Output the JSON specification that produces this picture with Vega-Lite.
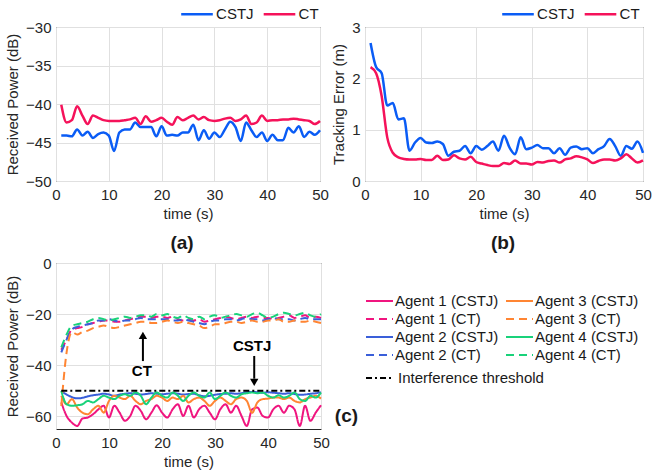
{
 "$schema": "https://vega.github.io/schema/vega-lite/v6.json",
 "padding": {"left": 5, "top": 6, "right": 0, "bottom": 0},
 "background": "white",
 "config": {
  "font": "Liberation Sans",
  "view": {"stroke": "#262626", "strokeWidth": 1},
  "axis": {"labelFontSize": 15, "labelColor": "#262626", "titleFontSize": 15, "titleFontWeight": "normal", "titleColor": "#262626", "gridColor": "#e0e0e0", "gridWidth": 1, "domain": false, "ticks": false, "labelPadding": 6, "titlePadding": 4, "labelFlush": false, "labelOverlap": false},
  "axisY": {"labelPadding": 5, "titlePadding": 5},
  "legend": {"labelFontSize": 15, "labelColor": "#1a1a1a", "padding": 0, "titlePadding": 0},
  "title": {"fontSize": 19, "fontWeight": "bold", "color": "#1a1a1a"}
 },
 "datasets": {
  "a": [
   {"t":1,"CSTJ":-44.1,"CT":-40.1},{"t":2,"CSTJ":-44.1,"CT":-42.4},{"t":3,"CSTJ":-44.2,"CT":-42.1},{"t":4,"CSTJ":-43.3,"CT":-40.3},{"t":5,"CSTJ":-44.1,"CT":-41.5},
   {"t":6,"CSTJ":-43.6,"CT":-42.6},{"t":7,"CSTJ":-44.4,"CT":-41.5},{"t":8,"CSTJ":-43.9,"CT":-41.8},{"t":9,"CSTJ":-43.7,"CT":-42.1},{"t":10,"CSTJ":-44.1,"CT":-42.2},
   {"t":11,"CSTJ":-46.1,"CT":-42.2},{"t":12,"CSTJ":-43.7,"CT":-42.2},{"t":13,"CSTJ":-43.3,"CT":-42.1},{"t":14,"CSTJ":-43.3,"CT":-42.0},{"t":15,"CSTJ":-42.4,"CT":-41.8},
   {"t":16,"CSTJ":-43.0,"CT":-42.6},{"t":17,"CSTJ":-43.0,"CT":-41.6},{"t":18,"CSTJ":-43.0,"CT":-42.3},{"t":19,"CSTJ":-44.2,"CT":-42.1},{"t":20,"CSTJ":-42.9,"CT":-41.8},
   {"t":21,"CSTJ":-44.1,"CT":-42.3},{"t":22,"CSTJ":-44.0,"CT":-42.7},{"t":23,"CSTJ":-44.1,"CT":-41.7},{"t":24,"CSTJ":-43.7,"CT":-42.1},{"t":25,"CSTJ":-43.7,"CT":-41.8},
   {"t":26,"CSTJ":-42.7,"CT":-41.5},{"t":27,"CSTJ":-44.7,"CT":-42.0},{"t":28,"CSTJ":-43.4,"CT":-41.7},{"t":29,"CSTJ":-44.5,"CT":-42.1},{"t":30,"CSTJ":-43.7,"CT":-42.2},
   {"t":31,"CSTJ":-44.3,"CT":-42.1},{"t":32,"CSTJ":-43.3,"CT":-41.9},{"t":33,"CSTJ":-42.3,"CT":-41.8},{"t":34,"CSTJ":-43.0,"CT":-42.2},{"t":35,"CSTJ":-44.8,"CT":-42.0},
   {"t":36,"CSTJ":-42.4,"CT":-41.5},{"t":37,"CSTJ":-43.4,"CT":-42.6},{"t":38,"CSTJ":-44.3,"CT":-42.4},{"t":39,"CSTJ":-43.7,"CT":-41.5},{"t":40,"CSTJ":-44.8,"CT":-42.2},
   {"t":41,"CSTJ":-44.0,"CT":-42.1},{"t":42,"CSTJ":-44.7,"CT":-42.1},{"t":43,"CSTJ":-44.7,"CT":-42.0},{"t":44,"CSTJ":-43.1,"CT":-42.0},{"t":45,"CSTJ":-43.7,"CT":-41.9},
   {"t":46,"CSTJ":-42.9,"CT":-42.0},{"t":47,"CSTJ":-44.3,"CT":-42.1},{"t":48,"CSTJ":-43.6,"CT":-42.2},{"t":49,"CSTJ":-44.0,"CT":-42.6},{"t":50,"CSTJ":-43.4,"CT":-42.2}
  ],
  "b": [
   {"t":1,"CSTJ":2.69,"CT":2.22},{"t":2,"CSTJ":2.22,"CT":2.1},{"t":3,"CSTJ":2.1,"CT":1.65},{"t":4,"CSTJ":1.47,"CT":0.85},{"t":5,"CSTJ":1.52,"CT":0.55},
   {"t":6,"CSTJ":1.2,"CT":0.46},{"t":7,"CSTJ":1.22,"CT":0.43},{"t":8,"CSTJ":0.59,"CT":0.42},{"t":9,"CSTJ":0.75,"CT":0.42},{"t":10,"CSTJ":0.84,"CT":0.43},
   {"t":11,"CSTJ":0.75,"CT":0.41},{"t":12,"CSTJ":0.74,"CT":0.41},{"t":13,"CSTJ":0.77,"CT":0.49},{"t":14,"CSTJ":0.72,"CT":0.41},{"t":15,"CSTJ":0.49,"CT":0.42},
   {"t":16,"CSTJ":0.57,"CT":0.50},{"t":17,"CSTJ":0.59,"CT":0.44},{"t":18,"CSTJ":0.68,"CT":0.42},{"t":19,"CSTJ":0.54,"CT":0.47},{"t":20,"CSTJ":0.68,"CT":0.37},
   {"t":21,"CSTJ":0.61,"CT":0.34},{"t":22,"CSTJ":0.68,"CT":0.31},{"t":23,"CSTJ":0.77,"CT":0.29},{"t":24,"CSTJ":0.59,"CT":0.29},{"t":25,"CSTJ":0.88,"CT":0.35},
   {"t":26,"CSTJ":0.65,"CT":0.33},{"t":27,"CSTJ":0.52,"CT":0.40},{"t":28,"CSTJ":0.85,"CT":0.34},{"t":29,"CSTJ":0.62,"CT":0.34},{"t":30,"CSTJ":0.65,"CT":0.32},
   {"t":31,"CSTJ":0.70,"CT":0.37},{"t":32,"CSTJ":0.64,"CT":0.36},{"t":33,"CSTJ":0.64,"CT":0.39},{"t":34,"CSTJ":0.54,"CT":0.40},{"t":35,"CSTJ":0.64,"CT":0.36},
   {"t":36,"CSTJ":0.51,"CT":0.42},{"t":37,"CSTJ":0.65,"CT":0.44},{"t":38,"CSTJ":0.67,"CT":0.48},{"t":39,"CSTJ":0.62,"CT":0.46},{"t":40,"CSTJ":0.64,"CT":0.42},
   {"t":41,"CSTJ":0.54,"CT":0.35},{"t":42,"CSTJ":0.62,"CT":0.39},{"t":43,"CSTJ":0.68,"CT":0.42},{"t":44,"CSTJ":0.82,"CT":0.42},{"t":45,"CSTJ":0.68,"CT":0.40},
   {"t":46,"CSTJ":0.49,"CT":0.44},{"t":47,"CSTJ":0.68,"CT":0.52},{"t":48,"CSTJ":0.63,"CT":0.44},{"t":49,"CSTJ":0.77,"CT":0.36},{"t":50,"CSTJ":0.55,"CT":0.40}
  ],
  "c": [
   {"t":1,"a1s":-54.6,"a1c":-34,"a2s":-50.2,"a2c":-35,"a3s":-52.0,"a3c":-56,"a4s":-50.1,"a4c":-33},
   {"t":2,"a1s":-59.9,"a1c":-30,"a2s":-51.5,"a2c":-30,"a3s":-55.3,"a3c":-35,"a4s":-55.3,"a4c":-28},
   {"t":3,"a1s":-62.5,"a1c":-26,"a2s":-52.5,"a2c":-26,"a3s":-53.3,"a3c":-27,"a4s":-55.9,"a4c":-24.5},
   {"t":4,"a1s":-63.8,"a1c":-25.5,"a2s":-53,"a2c":-25,"a3s":-56.6,"a3c":-28,"a4s":-55.7,"a4c":-24},
   {"t":5,"a1s":-60.9,"a1c":-25,"a2s":-52.8,"a2c":-24.5,"a3s":-58.6,"a3c":-27,"a4s":-55.3,"a4c":-23.5},
   {"t":6,"a1s":-60.5,"a1c":-24,"a2s":-52.2,"a2c":-24,"a3s":-59.2,"a3c":-26.5,"a4s":-54.0,"a4c":-23},
   {"t":7,"a1s":-59.2,"a1c":-23.5,"a2s":-51.8,"a2c":-23.5,"a3s":-57.3,"a3c":-25.5,"a4s":-54.6,"a4c":-22},
   {"t":8,"a1s":-57.3,"a1c":-23,"a2s":-51.5,"a2c":-22.5,"a3s":-55.9,"a3c":-25,"a4s":-53.3,"a4c":-21.5},
   {"t":9,"a1s":-55.9,"a1c":-22.5,"a2s":-51.2,"a2c":-22.5,"a3s":-58.6,"a3c":-24.5,"a4s":-52.0,"a4c":-22},
   {"t":10,"a1s":-60.5,"a1c":-22.5,"a2s":-51.5,"a2c":-22,"a3s":-54.0,"a3c":-25,"a4s":-52.7,"a4c":-22.5},
   {"t":11,"a1s":-55.9,"a1c":-23,"a2s":-52,"a2c":-22.5,"a3s":-52.0,"a3c":-25.5,"a4s":-53.3,"a4c":-22},
   {"t":12,"a1s":-58.6,"a1c":-23,"a2s":-51.5,"a2c":-23,"a3s":-52.7,"a3c":-25,"a4s":-52.0,"a4c":-21.5},
   {"t":13,"a1s":-61.8,"a1c":-22.5,"a2s":-51.2,"a2c":-22.5,"a3s":-53.3,"a3c":-24.5,"a4s":-51.4,"a4c":-21},
   {"t":14,"a1s":-59.9,"a1c":-22,"a2s":-51,"a2c":-22.5,"a3s":-52.0,"a3c":-24,"a4s":-52.0,"a4c":-21.5},
   {"t":15,"a1s":-55.9,"a1c":-21.5,"a2s":-51.2,"a2c":-22,"a3s":-54.0,"a3c":-23.5,"a4s":-50.7,"a4c":-21},
   {"t":16,"a1s":-57.9,"a1c":-21,"a2s":-51.5,"a2c":-21.5,"a3s":-55.3,"a3c":-23,"a4s":-52.0,"a4c":-20.5},
   {"t":17,"a1s":-61.2,"a1c":-21,"a2s":-51.3,"a2c":-22,"a3s":-54.0,"a3c":-23,"a4s":-55.3,"a4c":-20.5},
   {"t":18,"a1s":-58.6,"a1c":-21.5,"a2s":-51,"a2c":-22,"a3s":-53.3,"a3c":-23.5,"a4s":-52.7,"a4c":-21},
   {"t":19,"a1s":-55.7,"a1c":-21,"a2s":-51.2,"a2c":-22,"a3s":-52.0,"a3c":-23.5,"a4s":-50.7,"a4c":-20},
   {"t":20,"a1s":-58.6,"a1c":-21,"a2s":-51.4,"a2c":-22,"a3s":-52.7,"a3c":-23,"a4s":-52.0,"a4c":-20.5},
   {"t":21,"a1s":-60.5,"a1c":-21.5,"a2s":-51.2,"a2c":-22,"a3s":-54.0,"a3c":-22.5,"a4s":-52.7,"a4c":-20},
   {"t":22,"a1s":-57.3,"a1c":-21,"a2s":-51,"a2c":-22.5,"a3s":-52.7,"a3c":-23,"a4s":-50.7,"a4c":-21},
   {"t":23,"a1s":-55.3,"a1c":-22,"a2s":-51.2,"a2c":-22.5,"a3s":-53.3,"a3c":-23.5,"a4s":-52.0,"a4c":-21.5},
   {"t":24,"a1s":-59.9,"a1c":-22.5,"a2s":-51.5,"a2c":-22,"a3s":-52.0,"a3c":-23,"a4s":-54.0,"a4c":-20.5},
   {"t":25,"a1s":-55.9,"a1c":-22,"a2s":-51.3,"a2c":-22.5,"a3s":-54.6,"a3c":-23.5,"a4s":-52.0,"a4c":-21.5},
   {"t":26,"a1s":-60.5,"a1c":-22.5,"a2s":-51.2,"a2c":-23,"a3s":-53.3,"a3c":-24,"a4s":-50.7,"a4c":-22},
   {"t":27,"a1s":-57.3,"a1c":-22,"a2s":-51.8,"a2c":-23.5,"a3s":-52.7,"a3c":-24.5,"a4s":-52.0,"a4c":-21},
   {"t":28,"a1s":-55.9,"a1c":-23,"a2s":-52.2,"a2c":-24,"a3s":-54.0,"a3c":-25.5,"a4s":-52.7,"a4c":-22},
   {"t":29,"a1s":-58.6,"a1c":-22.5,"a2s":-52,"a2c":-23,"a3s":-55.9,"a3c":-25,"a4s":-50.7,"a4c":-21},
   {"t":30,"a1s":-61.2,"a1c":-22,"a2s":-51.6,"a2c":-22.5,"a3s":-54.0,"a3c":-24,"a4s":-53.3,"a4c":-20.5},
   {"t":31,"a1s":-57.3,"a1c":-21.5,"a2s":-51.3,"a2c":-22.5,"a3s":-52.7,"a3c":-24,"a4s":-52.0,"a4c":-21.5},
   {"t":32,"a1s":-55.3,"a1c":-21,"a2s":-51.2,"a2c":-22,"a3s":-54.0,"a3c":-23.5,"a4s":-50.7,"a4c":-21},
   {"t":33,"a1s":-58.6,"a1c":-21.5,"a2s":-51,"a2c":-22,"a3s":-55.3,"a3c":-23,"a4s":-52.0,"a4c":-20.5},
   {"t":34,"a1s":-55.9,"a1c":-22,"a2s":-51.2,"a2c":-22.5,"a3s":-53.3,"a3c":-23,"a4s":-52.7,"a4c":-20},
   {"t":35,"a1s":-59.9,"a1c":-21.5,"a2s":-51,"a2c":-22,"a3s":-52.7,"a3c":-23.5,"a4s":-51.4,"a4c":-20.5},
   {"t":36,"a1s":-63.8,"a1c":-21,"a2s":-50.6,"a2c":-21.5,"a3s":-54.0,"a3c":-23,"a4s":-51.0,"a4c":-21},
   {"t":37,"a1s":-57.3,"a1c":-21.5,"a2s":-50.5,"a2c":-22,"a3s":-58.6,"a3c":-22.5,"a4s":-50.7,"a4c":-20},
   {"t":38,"a1s":-56.6,"a1c":-21,"a2s":-50.6,"a2c":-22,"a3s":-54.6,"a3c":-23,"a4s":-51.0,"a4c":-19.5},
   {"t":39,"a1s":-59.9,"a1c":-21.5,"a2s":-50.8,"a2c":-22.5,"a3s":-53.3,"a3c":-23,"a4s":-50.7,"a4c":-20.5},
   {"t":40,"a1s":-60.5,"a1c":-21.5,"a2s":-50.6,"a2c":-22,"a3s":-53.1,"a3c":-22.5,"a4s":-52.0,"a4c":-21.5},
   {"t":41,"a1s":-57.3,"a1c":-22,"a2s":-50.8,"a2c":-21.5,"a3s":-52.7,"a3c":-22.5,"a4s":-52.7,"a4c":-21},
   {"t":42,"a1s":-55.9,"a1c":-21.5,"a2s":-51,"a2c":-22,"a3s":-52.7,"a3c":-22,"a4s":-51.8,"a4c":-20},
   {"t":43,"a1s":-58.6,"a1c":-21,"a2s":-51.2,"a2c":-22,"a3s":-53.3,"a3c":-23,"a4s":-52.7,"a4c":-19.5},
   {"t":44,"a1s":-55.9,"a1c":-20.5,"a2s":-51,"a2c":-22,"a3s":-52.7,"a3c":-23,"a4s":-52.0,"a4c":-20},
   {"t":45,"a1s":-57.3,"a1c":-21.5,"a2s":-51.3,"a2c":-22.5,"a3s":-54.0,"a3c":-22.5,"a4s":-50.7,"a4c":-20.5},
   {"t":46,"a1s":-63.8,"a1c":-21,"a2s":-51.6,"a2c":-22,"a3s":-54.6,"a3c":-23,"a4s":-53.3,"a4c":-20},
   {"t":47,"a1s":-55.9,"a1c":-20.5,"a2s":-51.5,"a2c":-21.5,"a3s":-53.3,"a3c":-23,"a4s":-54.0,"a4c":-19.5},
   {"t":48,"a1s":-61.8,"a1c":-21.5,"a2s":-51.2,"a2c":-22,"a3s":-52.7,"a3c":-22.5,"a4s":-52.0,"a4c":-20.5},
   {"t":49,"a1s":-58.6,"a1c":-21,"a2s":-51,"a2c":-22,"a3s":-52.0,"a3c":-23,"a4s":-52.7,"a4c":-21},
   {"t":50,"a1s":-55.7,"a1c":-21.5,"a2s":-50.6,"a2c":-22,"a3s":-53.1,"a3c":-23.5,"a4s":-50.7,"a4c":-20}
  ],
  "thr": [{"t":1,"v":-50,"k":"Interference threshold"},{"t":50,"v":-50,"k":"Interference threshold"}],
  "arrows": [{"t":16.4,"v1":-29.5,"v2":-38.4,"h":-28.3,"d":"up"},{"t":37.4,"v1":-36.4,"v2":-45.3,"h":-46.7,"d":"down"}],
  "notes": [{"t":16.2,"v":-42.3,"txt":"CT"},{"t":37.0,"v":-32.5,"txt":"CSTJ"}],
  "plabel": [{"t":54.8,"v":-60,"txt":"(c)"}]
 },
 "columns": 2,
 "spacing": {"row": 82, "column": 44},
 "bounds": "flush",
 "resolve": {"scale": {"color": "independent", "strokeDash": "independent", "shape": "independent"}},
 "concat": [
  {
   "width": 264, "height": 154,
   "data": {"name": "a"},
   "transform": [{"fold": ["CSTJ", "CT"], "as": ["m", "v"]}],
   "title": {"text": "(a)", "orient": "bottom", "anchor": "middle", "offset": 13, "dx": -6},
   "mark": {"type": "line", "strokeWidth": 2.5, "interpolate": "monotone"},
   "encoding": {
    "x": {"field": "t", "type": "quantitative", "scale": {"domain": [0, 50]}, "axis": {"values": [0,10,20,30,40,50], "title": "time (s)"}},
    "y": {"field": "v", "type": "quantitative", "scale": {"domain": [-50, -30]}, "axis": {"values": [-50,-45,-40,-35,-30], "title": "Received Power (dB)"}},
    "color": {"field": "m", "type": "nominal", "scale": {"domain": ["CSTJ", "CT"], "range": ["#0a5cf5", "#f5125a"]},
     "legend": {"title": null, "orient": "none", "direction": "horizontal", "legendX": 133.5, "legendY": -20.5, "symbolType": "M-3,0H3", "symbolSize": 111, "symbolStrokeWidth": 2.5, "labelOffset": 11.6, "columnPadding": 3.5}}
   }
  },
  {
   "width": 278, "height": 154,
   "data": {"name": "b"},
   "transform": [{"fold": ["CSTJ", "CT"], "as": ["m", "v"]}],
   "title": {"text": "(b)", "orient": "bottom", "anchor": "middle", "offset": 13, "dx": -1},
   "mark": {"type": "line", "strokeWidth": 2.5, "interpolate": "monotone"},
   "encoding": {
    "x": {"field": "t", "type": "quantitative", "scale": {"domain": [0, 50]}, "axis": {"values": [0,10,20,30,40,50], "title": "time (s)"}},
    "y": {"field": "v", "type": "quantitative", "scale": {"domain": [0, 3]}, "axis": {"values": [0,1,2,3], "title": "Tracking Error (m)"}},
    "color": {"field": "m", "type": "nominal", "scale": {"domain": ["CSTJ", "CT"], "range": ["#0a5cf5", "#f5125a"]},
     "legend": {"title": null, "orient": "none", "direction": "horizontal", "legendX": 145.5, "legendY": -20.5, "symbolType": "M-3,0H3", "symbolSize": 111, "symbolStrokeWidth": 2.5, "labelOffset": 11.6, "columnPadding": 3.5}}
   }
  },
  {
   "width": 265, "height": 166,
   "resolve": {"scale": {"color": "independent", "strokeDash": "independent"}},
   "layer": [
    {
     "data": {"name": "c"},
     "transform": [{"fold": ["a1s","a1c","a2s","a2c","a3s","a3c","a4s","a4c"], "as": ["s", "v"]}],
     "mark": {"type": "line", "strokeWidth": 2, "interpolate": "monotone"},
     "encoding": {
      "x": {"field": "t", "type": "quantitative", "scale": {"domain": [0, 50]}, "axis": {"values": [0,10,20,30,40,50], "title": "time (s)"}},
      "y": {"field": "v", "type": "quantitative", "scale": {"domain": [-65, 0]}, "axis": {"values": [-60,-40,-20,0], "title": "Received Power (dB)"}},
      "color": {"field": "s", "type": "nominal",
       "scale": {"domain": ["a1s","a1c","a2s","a2c","a3s","a3c","a4s","a4c"], "range": ["#f0157f","#f0157f","#3a5fd9","#3a5fd9","#ff8533","#ff8533","#19d27a","#19d27a"]},
       "legend": {"title": null, "orient": "none", "columns": 2, "legendX": 313.5, "legendY": 28, "symbolType": "M-1.5,0H1.5", "symbolSize": 324, "symbolStrokeWidth": 2, "labelOffset": 5.5, "columnPadding": 3, "rowPadding": 0,
        "labelExpr": "{'a1s':'Agent 1 (CSTJ)','a1c':'Agent 1 (CT)','a2s':'Agent 2 (CSTJ)','a2c':'Agent 2 (CT)','a3s':'Agent 3 (CSTJ)','a3c':'Agent 3 (CT)','a4s':'Agent 4 (CSTJ)','a4c':'Agent 4 (CT)'}[datum.label]"}},
      "strokeDash": {"field": "s", "type": "nominal",
       "scale": {"domain": ["a1s","a1c","a2s","a2c","a3s","a3c","a4s","a4c"], "range": [[1,0],[8,5],[1,0],[8,5],[1,0],[8,5],[1,0],[8,5]]},
       "legend": {"title": null, "orient": "none", "columns": 2, "legendX": 313.5, "legendY": 28, "symbolType": "M-1.5,0H1.5", "symbolSize": 324, "symbolStrokeWidth": 2, "labelOffset": 5.5, "columnPadding": 3, "rowPadding": 0,
        "labelExpr": "{'a1s':'Agent 1 (CSTJ)','a1c':'Agent 1 (CT)','a2s':'Agent 2 (CSTJ)','a2c':'Agent 2 (CT)','a3s':'Agent 3 (CSTJ)','a3c':'Agent 3 (CT)','a4s':'Agent 4 (CSTJ)','a4c':'Agent 4 (CT)'}[datum.label]"}}
     }
    },
    {
     "data": {"name": "thr"},
     "mark": {"type": "line", "strokeWidth": 2},
     "encoding": {
      "x": {"field": "t", "type": "quantitative", "scale": {"domain": [0, 50]}},
      "y": {"field": "v", "type": "quantitative", "scale": {"domain": [-65, 0]}},
      "color": {"field": "k", "type": "nominal", "scale": {"range": ["#000000"]},
       "legend": {"title": null, "orient": "none", "legendX": 313.5, "legendY": 105, "symbolType": "M-1.5,0H1.5", "symbolSize": 324, "symbolStrokeWidth": 2, "labelOffset": 8.5}},
      "strokeDash": {"field": "k", "type": "nominal", "scale": {"range": [[6,3,2,3]]},
       "legend": {"title": null, "orient": "none", "legendX": 313.5, "legendY": 105, "symbolType": "M-1.5,0H1.5", "symbolSize": 324, "symbolStrokeWidth": 2, "labelOffset": 8.5}}
     }
    },
    {
     "data": {"name": "arrows"},
     "mark": {"type": "rule", "strokeWidth": 2, "color": "#000000"},
     "encoding": {
      "x": {"field": "t", "type": "quantitative", "scale": {"domain": [0, 50]}},
      "y": {"field": "v1", "type": "quantitative", "scale": {"domain": [-65, 0]}},
      "y2": {"field": "v2"}
     }
    },
    {
     "data": {"name": "arrows"},
     "mark": {"type": "point", "filled": true, "color": "#000000", "size": 70, "opacity": 1},
     "encoding": {
      "x": {"field": "t", "type": "quantitative", "scale": {"domain": [0, 50]}},
      "y": {"field": "h", "type": "quantitative", "scale": {"domain": [-65, 0]}},
      "shape": {"field": "d", "type": "nominal", "scale": {"domain": ["up", "down"], "range": ["triangle-up", "triangle-down"]}, "legend": null}
     }
    },
    {
     "data": {"name": "notes"},
     "mark": {"type": "text", "fontWeight": "bold", "fontSize": 15, "color": "#000000", "align": "center", "baseline": "middle"},
     "encoding": {
      "x": {"field": "t", "type": "quantitative", "scale": {"domain": [0, 50]}},
      "y": {"field": "v", "type": "quantitative", "scale": {"domain": [-65, 0]}},
      "text": {"field": "txt"}
     }
    },
    {
     "data": {"name": "plabel"},
     "mark": {"type": "text", "fontWeight": "bold", "fontSize": 19, "color": "#1a1a1a", "align": "center", "baseline": "middle", "clip": false},
     "encoding": {
      "x": {"field": "t", "type": "quantitative", "scale": {"domain": [0, 50]}},
      "y": {"field": "v", "type": "quantitative", "scale": {"domain": [-65, 0]}},
      "text": {"field": "txt"}
     }
    }
   ]
  }
 ]
}
